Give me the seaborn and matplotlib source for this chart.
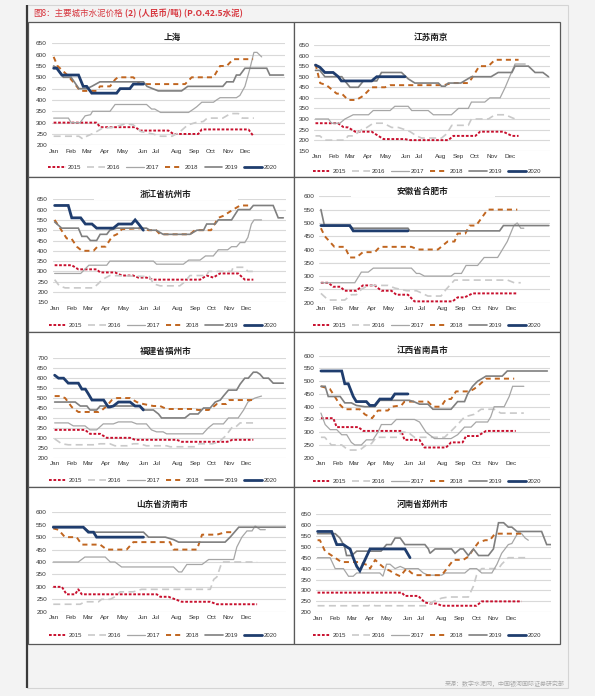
import matplotlib
matplotlib.use("Agg")
import matplotlib.pyplot as plt
from matplotlib.patches import Rectangle
import seaborn as sns
import pandas as pd

# ---------------- data ----------------
YEARS = ["2015", "2016", "2017", "2018", "2019", "2020"]
MONTHS = ["Jan", "Feb", "Mar", "Apr", "May", "Jun", "Jul", "Aug", "Sep", "Oct", "Nov", "Dec"]
MONTH_POS = [0.6, 4.9, 9.2, 13.7, 18.1, 23.4, 26.7, 32.1, 36.6, 40.9, 45.3, 49.8]

TITLES = ["上海", "江苏南京", "浙江省杭州市", "安徽省合肥市",
          "福建省福州市", "江西省南昌市", "山东省济南市", "河南省郑州市"]
Y_MIN = [200, 150, 150, 200, 200, 200, 200, 200]
Y_MAX = [650, 650, 650, 600, 700, 600, 600, 650]

# (week, price) points — 上海
sh_2015 = [(0.5,300),(11.5,300),(12.5,280),(21.5,280),(22.7,265),(30,265),(31.3,250),(37.7,250),(38.6,270),(50.6,270),(51.9,240)]
sh_2016 = [(0.5,240),(7,240),(8,228),(9,240),(11,255),(13,275),(16,280),(19,295),(21,290),(23,260),(26,250),(28,240),(31,240),(33,260),(35,290),(37,300),(39,305),(40,320),(44,320),(45,330),(46,340),(48,340),(49,320),(52,320)]
sh_2017 = [(0.5,320),(4.3,320),(5,300),(7.3,300),(8.6,330),(10,335),(10.5,350),(15,350),(16.3,380),(24.4,380),(25.7,360),(26.5,360),(28,345),(35.2,345),(36.5,360),(37.3,370),(38.6,390),(41.6,390),(42.4,400),(43.3,410),(47.5,410),(48.4,420),(49.7,460),(51,540),(52,610),(52.8,610),(54,590)]
sh_2018 = [(0.5,590),(1.5,550),(4,510),(6,470),(7.3,440),(11.6,440),(12.4,460),(15,460),(16.3,490),(17,500),(21,500),(22.7,470),(34.3,470),(36,500),(41.6,500),(43.3,550),(45,550),(46.7,580),(51.8,580)]
sh_2019 = [(0.5,550),(1.5,540),(3,500),(5,500),(7,450),(9,450),(10.3,460),(12.4,480),(23.6,480),(24.5,460),(27.4,440),(33.4,440),(35,460),(44,460),(45,480),(46.7,480),(47.5,510),(48.4,510),(49.7,540),(55.3,540),(56.1,510),(59.6,510)]
sh_2020 = [(0.5,540),(1.3,540),(2.6,510),(6.9,510),(8.1,460),(9,460),(10.3,430),(16.7,430),(17.6,450),(20.1,450),(21,470),(23.6,470)]

# 江苏南京
nj_2015 = [(0.3,280),(6,280),(7.4,262),(8.6,260),(10.4,240),(14.6,240),(17.6,205),(23,205),(24.4,200),(34.1,200),(35.4,220),(41,220),(42.2,240),(48.1,240),(50.3,220),(52,220)]
nj_2016 = [(0.3,220),(1.4,220),(2.7,200),(7.8,200),(8.6,220),(10,220),(12.1,250),(13.4,260),(15,280),(17.6,280),(19.7,260),(21.4,260),(23,250),(24.4,240),(26,220),(27.3,210),(32.4,210),(33.7,230),(35,270),(39.2,270),(40,300),(44.3,300),(46,320),(48.6,320),(51.1,300)]
nj_2017 = [(0.3,300),(3.6,300),(4.4,280),(6.5,280),(7.8,300),(9.9,320),(13.8,320),(15,340),(19.3,340),(20.5,360),(23.9,360),(24.8,340),(29,340),(30.3,320),(34.9,320),(36.7,350),(39.2,350),(40,380),(43.4,380),(44.7,400),(47.3,400),(48.6,450),(51.1,560),(53.7,560)]
nj_2018 = [(0.3,560),(1.5,470),(3.1,460),(5.7,420),(7,420),(8.6,390),(10.7,390),(12.5,410),(14.6,450),(18,450),(19.3,460),(33,460),(35,470),(39.2,470),(40,490),(42,550),(44.3,550),(46,580),(52,580)]
nj_2019 = [(0.3,530),(1.4,530),(2.7,500),(7,500),(7.8,480),(9.1,450),(11.2,450),(12.5,480),(15.9,480),(17.1,520),(22.2,520),(23.9,490),(25.6,470),(31.6,470),(32.4,455),(33.3,455),(34.1,470),(37.3,470),(40,500),(45,500),(46.8,520),(50.3,520),(51.1,550),(54.5,550),(56.2,520),(58.2,520),(59.6,500)]
nj_2020 = [(0.3,555),(1.4,545),(2.7,520),(4.8,520),(6.1,500),(6.9,480),(14.6,480),(15.9,500),(23.1,500)]

# 浙江省杭州市
hz_2015 = [(0.5,330),(4.9,330),(6.6,310),(11.3,310),(12.2,295),(16,295),(17.8,280),(20.7,280),(22,270),(24.1,270),(25.9,260),(37.9,260),(39.6,280),(41.3,270),(43,290),(47.7,290),(49.4,260),(51.6,260)]
hz_2016 = [(0.5,260),(1.7,230),(3.2,220),(10.5,220),(11.7,240),(12.7,260),(14.7,280),(24.9,275),(25.9,240),(27.6,230),(32.7,230),(34,250),(35.3,280),(39.6,280),(40.1,300),(46,300),(46.4,320),(49.3,320),(50.2,300),(52,300)]
hz_2017 = [(0.5,290),(7.2,290),(9.3,330),(13.9,330),(14.7,350),(25.9,350),(26.7,335),(33.6,335),(35,355),(37.9,355),(39.3,375),(41.3,375),(42.6,405),(45,405),(46,420),(47.3,420),(48.2,440),(49.4,440),(50.2,465),(51.1,530),(51.8,550),(53.7,550)]
hz_2018 = [(0.5,550),(1.9,510),(3.6,460),(4.8,460),(6.2,420),(7.5,400),(10.5,400),(11.5,420),(13.6,420),(15.3,470),(16.5,480),(17.8,505),(23.6,510),(24.6,500),(26.6,500),(27.6,480),(35.3,480),(36.6,500),(40.7,500),(42.6,560),(43.9,570),(46.4,600),(48.2,620),(51.1,620)]
hz_2019 = [(0.5,540),(2.3,510),(6.6,510),(7.5,470),(8.8,470),(9.7,450),(11.3,450),(12.2,480),(13.9,480),(14.7,500),(16.5,510),(24.1,510),(25,500),(26.6,500),(28.4,480),(35.3,480),(37.1,500),(38.8,500),(39.6,530),(41.8,530),(42.6,550),(46,550),(47.7,600),(50.7,600),(51.6,620),(56.7,620),(58,560),(59.3,560)]
hz_2020 = [(0.5,620),(4,620),(4.9,560),(7.2,560),(8.4,530),(10.1,530),(11.3,510),(15.6,510),(16.9,530),(20.3,530),(21.2,550),(22.1,530),(23.3,500)]

# 安徽省合肥市
hf_2015 = [(0.5,275),(2.4,275),(3.7,260),(5.5,260),(6.7,245),(9.7,245),(11.4,265),(14.5,265),(16.2,245),(18.8,245),(20.1,230),(23.1,230),(24.8,205),(34.7,205),(36,220),(37.8,220),(39.9,235),(51.5,235)]
hf_2016 = [(0.5,235),(2.4,210),(6.7,210),(8.4,230),(9.7,230),(11,250),(12.8,265),(17.9,265),(19.7,255),(22.8,245),(25.3,245),(26.1,240),(28.3,225),(31.7,225),(33,250),(35.2,285),(49,285),(50.7,275),(52.4,275)]
hf_2017 = [(0.5,275),(9.3,275),(11,315),(12.8,315),(14.1,330),(24,330),(25.3,310),(26.1,310),(27.4,300),(34.3,300),(35.2,310),(37,310),(38.2,340),(41.2,340),(42.9,370),(46.4,370),(48.9,430),(50.6,490),(51.5,500),(52.4,480),(53.2,480)]
hf_2018 = [(0.5,480),(1.5,450),(4,410),(6.7,410),(8,370),(9.7,370),(11.4,390),(14.5,390),(15.8,410),(24,410),(25.7,400),(30.9,400),(33.4,430),(35.2,430),(36,460),(38,460),(39.1,490),(40.8,490),(43.8,550),(51.5,550)]
hf_2019 = [(0.5,550),(1.4,490),(7.6,490),(8.9,480),(23.1,480),(23.6,470),(46.9,470),(47.9,490),(59.7,490)]
hf_2020 = [(0.5,490),(8,490),(8.9,470),(23.1,470)]

# 福建省福州市
fz_2015 = [(0.5,340),(8.3,340),(9.6,320),(12.2,320),(13.9,300),(19.9,300),(21.2,290),(31.9,290),(33.2,280),(44.9,280),(46.2,290),(51.6,290)]
fz_2016 = [(0.5,295),(2.3,270),(4,265),(10.5,265),(12.2,270),(14.7,270),(16,260),(19.1,260),(20.7,270),(22.4,270),(24.1,260),(29.3,260),(30.2,255),(36.8,255),(37.7,270),(41.1,270),(42.8,280),(44.5,310),(46.2,355),(47.1,355),(48.2,375),(52.4,375)]
fz_2017 = [(0.5,375),(4,375),(5.3,360),(8.3,360),(9.6,340),(11.3,340),(13,370),(15.6,370),(16.9,380),(20.3,380),(21.6,370),(24.1,370),(25.4,340),(26.7,330),(28.4,330),(29.3,320),(38.6,320),(40,350),(41.3,370),(43.9,370),(45.2,400),(47.7,400),(49.1,440),(50.2,480),(52,500),(53.7,510)]
fz_2018 = [(0.5,510),(1.9,510),(3.2,500),(4.9,455),(6.6,430),(11.8,430),(12.7,440),(13.9,460),(15.2,490),(16.5,500),(19.9,500),(21.6,480),(23.3,470),(25.9,460),(27.6,460),(29.3,445),(36.1,445),(37.4,440),(40.1,440),(40.9,450),(42.2,470),(44.6,470),(45.4,490),(51.4,490)]
fz_2019 = [(0.5,480),(5.8,480),(7.1,460),(8.8,460),(9.6,440),(11.3,440),(12.2,460),(22.4,460),(23.7,440),(25.9,440),(27.2,420),(28,400),(34,400),(35.3,420),(37.4,420),(38.8,450),(40.5,450),(41.8,480),(43.1,490),(43.9,510),(45.2,540),(47.3,540),(48.2,570),(49.4,600),(50.3,600),(51.6,630),(52.5,630),(53.3,620),(54.2,600),(55.5,600),(56.7,575),(59.3,575)]
fz_2020 = [(0.5,615),(1.5,600),(2.8,600),(4,575),(6.6,575),(7.5,545),(8.4,545),(9.2,520),(10.1,490),(13.1,490),(14.3,455),(14.7,455),(15.6,460),(16.9,480),(19.9,480),(21.2,460),(22.4,460),(23.3,440)]

# 江西省南昌市
nc_2015 = [(0.5,355),(3.7,355),(4.6,320),(10.2,320),(11.5,305),(21.4,305),(22.2,270),(26.1,270),(27.4,240),(33,240),(34.3,260),(37.3,260),(38.2,285),(41.2,285),(43.4,305),(51.1,305)]
nc_2016 = [(0.5,280),(1.5,280),(3.2,250),(5.9,250),(7.6,230),(10.6,230),(12.3,250),(13.6,255),(14.9,280),(20.5,280),(21.4,300),(23.1,300),(24.8,280),(32.6,280),(34.7,310),(36,330),(37.8,360),(40.3,370),(42.1,390),(45.5,390),(47.2,375),(53.2,375)]
nc_2017 = [(0.5,375),(1.6,330),(2.9,310),(4.6,310),(5.9,290),(7.2,290),(8.4,260),(9.3,250),(11,250),(12.3,270),(14,270),(15.3,300),(16.2,330),(18.8,330),(20.1,350),(24.8,350),(26.1,340),(27.8,300),(30,275),(34.3,275),(36,290),(37.8,320),(39.5,320),(40.8,340),(43.8,340),(44.6,360),(45.5,400),(48.1,400),(49.4,440),(50.3,480),(53.2,480)]
nc_2018 = [(0.5,480),(2.8,470),(4.1,440),(5.3,410),(6.6,390),(10.6,390),(11.9,370),(13.8,355),(15.3,385),(17.9,385),(18.8,400),(21.4,405),(22.2,420),(28.3,420),(29.6,400),(31.7,400),(33,430),(34.3,430),(35.6,460),(39.1,460),(40.3,470),(41.2,480),(43.4,510),(50.7,510)]
nc_2019 = [(0.5,480),(1.6,480),(2.4,440),(5.5,440),(6.7,415),(8.4,415),(9.7,405),(11.9,400),(14.5,400),(15.8,425),(23.5,425),(24.6,420),(26.1,410),(28.3,410),(29.6,390),(34.3,390),(36,420),(37.8,420),(38.6,450),(39.9,480),(41.2,500),(43.4,520),(47.6,520),(48.9,540),(59.3,540)]
nc_2020 = [(0.5,540),(5.9,540),(6.7,490),(7.6,490),(8.9,440),(9.7,420),(12.3,420),(13.2,405),(14.5,405),(15.8,430),(18.8,430),(19.7,450),(23.1,450)]

# 山东省济南市
jn_2015 = [(0.4,300),(2.6,300),(3.8,270),(6,270),(6.8,290),(7.7,270),(26.9,270),(27.8,260),(29.9,260),(31.6,250),(33.3,240),(40.6,240),(42.3,230),(52.6,230)]
jn_2016 = [(0.4,230),(7.3,230),(8.5,240),(12,240),(12.8,250),(15,250),(16.2,260),(17.5,280),(20.9,280),(23,290),(40.6,290),(41.5,330),(42.3,340),(43.6,400),(52.6,400)]
jn_2017 = [(0.4,400),(6.8,400),(8.5,420),(13.7,420),(15,400),(16.2,400),(17.9,380),(31.2,380),(32.5,360),(33.3,360),(34.6,390),(38.5,390),(40.2,410),(46.6,410),(47.4,460),(48.7,500),(50,525),(51.3,525),(52.1,545),(53.4,530),(54.7,530)]
jn_2018 = [(0.4,535),(1.7,530),(3.4,500),(6.4,500),(7.7,470),(12.4,470),(14.1,450),(19.2,450),(20.9,480),(30.3,480),(31.2,450),(37.2,450),(38.5,510),(42.3,510),(44.5,520),(46.2,520)]
jn_2019 = [(0.4,540),(8.1,540),(9.8,520),(23.5,520),(24.8,500),(29.1,500),(31.2,490),(32.5,480),(44.4,480),(45.7,500),(47.9,540),(59.8,540)]
jn_2020 = [(0.4,540),(8.1,540),(9.4,520),(10.7,520),(11.5,500),(23.5,500)]

# 河南省郑州市
zz_2015 = [(0.4,290),(21.9,290),(22.7,275),(26.1,275),(27.8,245),(29.1,240),(30.8,240),(32.1,230),(41,230),(42.3,250),(52.5,250)]
zz_2016 = [(0.4,230),(13.4,230),(14.1,235),(15.1,230),(28.7,230),(30,250),(32.1,265),(33.8,270),(38.9,270),(40.2,320),(41,370),(42.3,400),(46.6,400),(47.4,420),(49.1,450),(53.4,450)]
zz_2017 = [(0.4,450),(3.6,450),(4.9,400),(7,400),(8.3,365),(9.5,365),(10.4,380),(16.3,380),(17.1,365),(18,420),(18.9,420),(20.2,400),(21.5,410),(22.7,400),(26.1,400),(27.4,380),(28.7,370),(32.1,370),(33,380),(38,380),(39.3,400),(41,400),(42.3,380),(44.9,380),(46.2,420),(47.4,470),(49.1,510),(50,515),(51.6,565),(52.5,560),(53.4,540),(54.2,530)]
zz_2018 = [(0.4,530),(1,530),(2.3,480),(4,460),(6.5,430),(11.2,430),(12.5,420),(13.4,415),(13.8,400),(15.1,440),(16.3,420),(17.6,400),(18.9,390),(19.7,380),(21.5,365),(23.1,400),(24.4,380),(25.3,370),(32.1,370),(33.4,400),(35.1,440),(37.6,440),(38.9,455),(40.2,490),(41.5,520),(43.2,530),(44.4,530),(45.7,560),(52.5,560)]
zz_2019 = [(0.4,560),(4.9,560),(6.1,540),(7.3,500),(7.8,460),(9.1,460),(10.4,480),(16.6,480),(18,510),(19.2,510),(20.2,540),(21.5,540),(22.7,510),(27.8,510),(28.7,490),(29.1,470),(30.4,490),(34.6,490),(35.5,470),(36.8,490),(37.6,490),(38.9,460),(40.2,490),(41.5,460),(44,460),(45.3,490),(46.6,610),(47.9,610),(49.1,590),(50,590),(51.3,570),(57.6,570),(58.9,510),(60,510)]
zz_2020 = [(0.4,570),(4,570),(5.3,510),(7,510),(7.8,500),(8.7,490),(9.5,450),(10.4,410),(11.2,390),(12.5,440),(13.8,490),(22.7,490),(24,450)]

SERIES = [
    [sh_2015, sh_2016, sh_2017, sh_2018, sh_2019, sh_2020],
    [nj_2015, nj_2016, nj_2017, nj_2018, nj_2019, nj_2020],
    [hz_2015, hz_2016, hz_2017, hz_2018, hz_2019, hz_2020],
    [hf_2015, hf_2016, hf_2017, hf_2018, hf_2019, hf_2020],
    [fz_2015, fz_2016, fz_2017, fz_2018, fz_2019, fz_2020],
    [nc_2015, nc_2016, nc_2017, nc_2018, nc_2019, nc_2020],
    [jn_2015, jn_2016, jn_2017, jn_2018, jn_2019, jn_2020],
    [zz_2015, zz_2016, zz_2017, zz_2018, zz_2019, zz_2020],
]

# ---------------- layout (pixels) ----------------
W, H = 595, 696
PLOT_LEFT = [51.7, 314.3, 52.7, 319, 52.7, 319, 51.7, 316]
PLOT_RIGHT = [285, 550, 286, 550, 286, 550, 286, 551]
PLOT_TOP = [43.3, 45, 199.3, 196.3, 358.3, 355.7, 512.3, 514]
PLOT_BOTTOM = [145.3, 150.7, 302.3, 302.7, 457.7, 457.7, 611.7, 612.3]
TITLE_X = [172, 431, 166, 422.5, 166, 422.5, 162.5, 422.5]
TITLE_Y = [37.3, 37.3, 194.3, 191, 351, 350, 504, 504]
LEGEND_X = [162.5, 427, 163, 427, 163, 427, 163, 427]
LEGEND_Y = [167, 171, 325, 325, 480.7, 481.7, 635, 635.7]
COLS = [(28, 294), (294, 560)]
ROWS = [(22, 177), (177, 332), (332, 487), (487, 644)]

# ---------------- styles ----------------
COLORS = ["#c8102e", "#c9c9c9", "#a6a6a6", "#c0651f", "#7f7f7f", "#1f3d6e"]
WIDTHS = [1.4, 1.2, 0.9, 1.4, 1.2, 2.0]
DASHES = [(1.4, 0.9), (4.2, 2.6), None, (2.6, 2.1), None, None]

sns.set_theme(style="white")
plt.rcParams["font.family"] = ["Liberation Sans", "Noto Sans CJK SC"]
CJK = ["Noto Sans CJK SC", "DejaVu Sans"]

fig = plt.figure(figsize=(W / 100, H / 100), dpi=100, facecolor="#f3f3f3")

bg = fig.add_axes([0, 0, 1, 1], zorder=-5)
bg.set_xlim(0, W); bg.set_ylim(H, 0); bg.axis("off")
fg = fig.add_axes([0, 0, 1, 1], zorder=10)
fg.set_xlim(0, W); fg.set_ylim(H, 0); fg.axis("off")

# container and header
bg.add_patch(Rectangle((27, 5), 541, 683, facecolor="#f3f3f3", edgecolor="#d4d4d4", lw=0.8))
bg.plot([27, 27], [5, 688], color="#3a3a3a", lw=1.6, solid_capstyle="butt")
t1 = bg.text(33, 13.5, "图8：主要城市水泥价格", color="#d7373f", fontsize=6.1,
             family=CJK, ha="left", va="center")
bg.annotate(" (2) (人民币/吨) (P.O.42.5水泥)", xy=(1, 0.5), xycoords=t1,
            color="#d7373f", fontsize=6.1, family=CJK, weight="bold",
            ha="left", va="center")
bg.text(565, 683.5, "来源：数字水泥网，中国银河国际证券研究部", color="#a8a8a8",
        fontsize=4.3, family=CJK, ha="right", va="center")

for r, (y0, y1) in enumerate(ROWS):
    for c, (x0, x1) in enumerate(COLS):
        bg.add_patch(Rectangle((x0, y0), x1 - x0, y1 - y0, facecolor="white",
                               edgecolor="#595959", lw=0.9))

for i in range(8):
    l, rgt, tp, bt = PLOT_LEFT[i], PLOT_RIGHT[i], PLOT_TOP[i], PLOT_BOTTOM[i]
    ax = fig.add_axes([l / W, 1 - bt / H, (rgt - l) / W, (bt - tp) / H])
    ax.set_facecolor("none")
    handles = []
    for k, year in enumerate(YEARS):
        pts = SERIES[i][k]
        df = pd.DataFrame(pts, columns=["week", "price"])
        sns.lineplot(data=df, x="week", y="price", ax=ax, color=COLORS[k],
                     linewidth=WIDTHS[k], estimator=None, sort=False,
                     legend=False, zorder=2 + k)
        ln = ax.lines[-1]
        if DASHES[k] is not None:
            ln.set_linestyle((0, DASHES[k]))
        ln.set_solid_joinstyle("miter")
        handles.append(ln)
    ax.set_xlim(0, 60)
    ax.set_ylim(Y_MIN[i], Y_MAX[i])
    ax.set_yticks(list(range(Y_MIN[i], Y_MAX[i] + 1, 50)))
    ax.set_xticks(MONTH_POS)
    ax.set_xticklabels(MONTHS)
    ax.set_xlabel(""); ax.set_ylabel("")
    ax.yaxis.grid(True, color="#d9d9d9", lw=0.8)
    ax.xaxis.grid(False)
    ax.set_axisbelow(True)
    for s in ax.spines.values():
        s.set_visible(False)
    ax.tick_params(axis="y", length=0, labelsize=4.6, pad=3.4, colors="#333333")
    ax.tick_params(axis="x", length=0, labelsize=4.6, pad=2.6, colors="#333333")
    ax.legend(handles, YEARS, loc="center", bbox_to_anchor=(LEGEND_X[i], LEGEND_Y[i]),
              bbox_transform=fg.transData, ncol=6, frameon=False, fontsize=4.3,
              handlelength=3.0, handletextpad=0.3, columnspacing=1.0, borderpad=0,
              labelcolor="#333333")
    # title with white box hiding the top gridline
    fg.add_patch(Rectangle((TITLE_X[i] - 72, TITLE_Y[i] - 6), 144, 11.7,
                           facecolor="white", edgecolor="none"))
    fg.text(TITLE_X[i], TITLE_Y[i], TITLES[i], ha="center", va="center",
            fontsize=6.2, weight="bold", family=CJK, color="#222222")

fig.savefig("out.png", dpi=100, facecolor=fig.get_facecolor())
